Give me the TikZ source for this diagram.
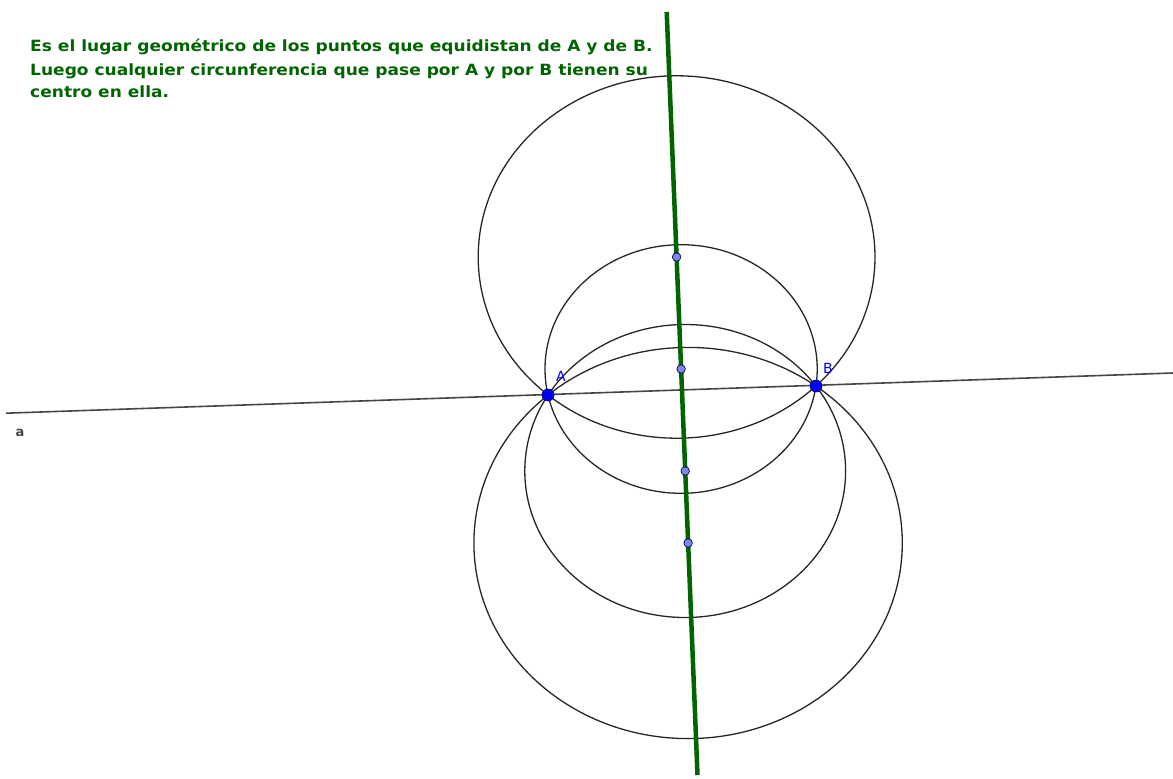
\documentclass[tikz,border=0pt]{standalone}
\usepackage{fontspec}
\setmainfont{DejaVu Sans}
\definecolor{ggreen}{RGB}{0,100,0}
\definecolor{gblue}{RGB}{0,0,255}
\definecolor{gdark}{RGB}{0,0,100}
\definecolor{glight}{RGB}{125,135,235}
\definecolor{gline}{RGB}{70,70,70}
\tikzset{
  circ/.style={draw=black!85, line width=1.3pt},
  bigpt/.style={circle, fill=gblue, draw=gdark, line width=0.6pt, inner sep=0pt, minimum size=12pt},
  smallpt/.style={circle, fill=glight, draw=gdark, line width=0.7pt, inner sep=0pt, minimum size=8.5pt},
  ptlabel/.style={text=gblue, font=\fontsize{14}{16}\selectfont, inner sep=0pt},
  txt/.style={text=ggreen, font=\fontsize{15.5}{18}\bfseries\selectfont, anchor=base west, inner sep=0pt, xscale=1.10}
}
\begin{document}
\begin{tikzpicture}[x=1pt, y=-1pt]
\useasboundingbox (0,0) rectangle (1173,779);
% coordinates
\coordinate (A) at (548,395);
\coordinate (B) at (816,386);
\coordinate (aL) at (6,413.2);
\coordinate (aR) at (1173,373);
\coordinate (mT) at (666.7,12);
\coordinate (mB) at (697.5,775);
\coordinate (O1) at (676.6,257);
\coordinate (O2) at (681.1,369);
\coordinate (O3) at (685.2,471);
\coordinate (O4) at (688.1,543);
% circles
\draw[circ] (O1) ellipse [x radius=198.4pt, y radius=181.2pt];
\draw[circ] (O2) ellipse [x radius=136.1pt, y radius=124.3pt];
\draw[circ] (O3) ellipse [x radius=160.4pt, y radius=146.5pt];
\draw[circ] (O4) ellipse [x radius=214.2pt, y radius=195.6pt];
% line a
\draw[gline, line width=1.6pt] (aL) -- (aR);
% perpendicular bisector
\draw[ggreen, line width=4.5pt] (mT) -- (mB);
% centres
\node[smallpt] (c1) at (O1) {};
\node[smallpt] (c2) at (O2) {};
\node[smallpt] (c3) at (O3) {};
\node[smallpt] (c4) at (O4) {};
% points
\node[bigpt] (pA) at (A) {};
\node[bigpt] (pB) at (B) {};
\node[ptlabel] (lA) at (561,376) {A};
\node[ptlabel] (lB) at (828,368) {B};
\node[text=gline, font=\fontsize{13}{15}\bfseries\selectfont, inner sep=0pt] (la) at (20,433) {a};
% text
\node[txt] (t1) at (30,51) {Es el lugar geométrico de los puntos que equidistan de A y de B.};
\node[txt] (t2) at (30,75) {Luego cualquier circunferencia que pase por A y por B tienen su};
\node[txt] (t3) at (30,97) {centro en ella.};
\end{tikzpicture}
\end{document}
